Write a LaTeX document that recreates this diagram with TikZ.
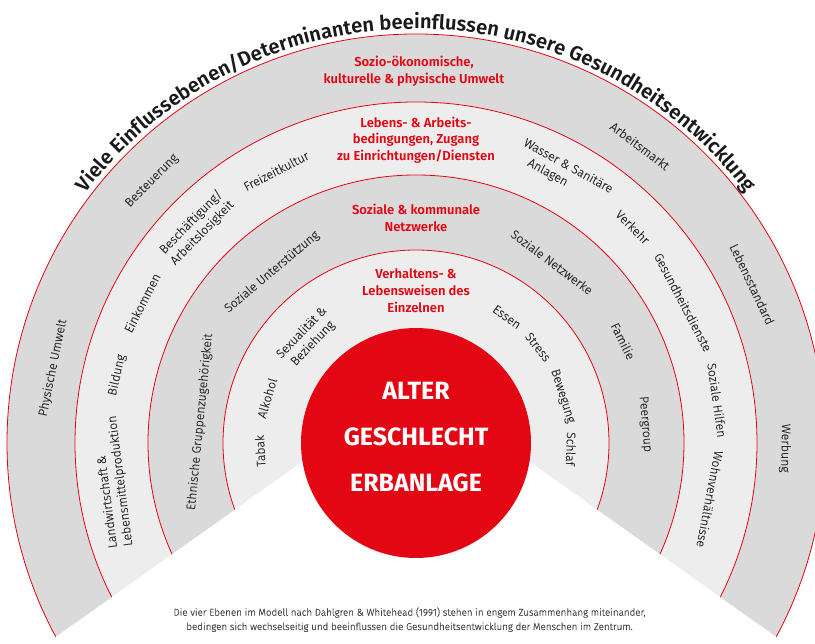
\documentclass[tikz,border=0pt]{standalone}
\usepackage{fontspec}
\setmainfont{Fira Sans}
\newfontfamily\lightfont{Fira Sans Light}[FakeBold=0.4]
\newfontfamily\semifont{Fira Sans SemiBold}
\usetikzlibrary{decorations.text}

\definecolor{hbred}{HTML}{E30613}
\definecolor{ringdark}{HTML}{DADADA}
\definecolor{ringlight}{HTML}{EDEDED}
\definecolor{labelgray}{HTML}{2B2B2B}
\definecolor{titleink}{HTML}{1A1A1A}
\definecolor{notegray}{HTML}{444444}

\begin{document}
\begin{tikzpicture}[x=1pt,y=1pt,
  ringline/.style={draw=hbred, line width=0.8pt},
  lbl/.style={font=\lightfont\fontsize{12.3}{15.5}\selectfont, text=labelgray, inner sep=0pt},
  head/.style={font=\semifont\fontsize{13}{16.7}\selectfont, text=hbred, inner sep=0pt, anchor=base},
  core/.style={font=\bfseries\fontsize{25}{30}\selectfont, text=white, inner sep=0pt, anchor=base},
  note/.style={font=\lightfont\fontsize{9.8}{14}\selectfont, text=notegray, inner sep=0pt, anchor=base}]

\useasboundingbox (0,0) rectangle (815,644);
\coordinate (C) at (416,201);
\coordinate (A) at (416,263);

% concentric rings, outermost first
\begin{scope}
  \clip (0,0) rectangle (815,644);
  \fill[ringdark]  (C) circle[radius=409];
  \draw[ringline]  (C) circle[radius=409];
  \fill[ringlight] (C) circle[radius=341];
  \draw[ringline]  (C) circle[radius=341];
  \fill[ringdark]  (C) circle[radius=268];
  \draw[ringline]  (C) circle[radius=268];
  \fill[ringlight] (C) circle[radius=193];
  \draw[ringline]  (C) circle[radius=193];
  % open wedge below the centre
  \fill[white] (A) -- ([shift={(215.4:800)}]A) -- ([shift={(-35.4:800)}]A) -- cycle;
  % core disc
  \fill[hbred] (C) circle[radius=115];
\end{scope}

% curved headline
\path[decorate, decoration={text along path, text align=center, text color=titleink,
  text={|\semifont\fontsize{20.2}{24}\selectfont|Viele Einflussebenen/Determinanten beeinflussen unsere Gesundheitsentwicklung}}]
  ([shift={(160:414)}]C) arc[start angle=160, end angle=20, radius=414];

% core labels
\node[core] (alter) at (416,244) {ALTER};
\node[core] (geschlecht) at (416,198) {GESCHLECHT};
\node[core] (erbanlage) at (416,152.3) {ERBANLAGE};

% ring headings
\node[head] (h4a) at (414,577.3) {Sozio-ökonomische,};
\node[head] (h4b) at (414,560.7) {kulturelle \& physische Umwelt};
\node[head] (h3a) at (416,516.7) {Lebens- \& Arbeits-};
\node[head] (h3b) at (416,500) {bedingungen, Zugang};
\node[head] (h3c) at (416,483.3) {zu Einrichtungen/Diensten};
\node[head] (h2a) at (416,429) {Soziale \& kommunale};
\node[head] (h2b) at (416,412.3) {Netzwerke};
\node[head] (h1a) at (416,365) {Verhaltens- \&};
\node[head] (h1b) at (416,348.3) {Lebensweisen des};
\node[head] (h1c) at (416,331.7) {Einzelnen};

% ring 1: individual lifestyle
\node[lbl, rotate=92.9]  (tabak)    at ([shift={(182.9:156)}]C) {Tabak};
\node[lbl, rotate=73.2]  (alkohol)  at ([shift={(163.2:155.6)}]C) {Alkohol};
\node[lbl, rotate=46, align=center] (sexual) at ([shift={(136:151)}]C) {Sexualität \&\\Beziehung};
\node[lbl, rotate=-35.8] (essen)    at ([shift={(54.2:155.4)}]C) {Essen};
\node[lbl, rotate=-51.8] (stress)   at ([shift={(38.2:155.2)}]C) {Stress};
\node[lbl, rotate=-72.3] (bewegung) at ([shift={(17.7:153.7)}]C) {Bewegung};
\node[lbl, rotate=-92.2] (schlaf)   at ([shift={(-2.2:155)}]C) {Schlaf};

% ring 2: social and community networks
\node[lbl, rotate=84.4]  (ethnisch)   at ([shift={(174.4:217)}]C) {Ethnische Gruppenzugehörigkeit};
\node[lbl, rotate=40.1]  (unterst)    at ([shift={(130.1:223.6)}]C) {Soziale Unterstützung};
\node[lbl, rotate=-36.9] (netzwerke)  at ([shift={(53.1:226.4)}]C) {Soziale Netzwerke};
\node[lbl, rotate=-63.8] (familie)    at ([shift={(26.2:230.8)}]C) {Familie};
\node[lbl, rotate=-85.3] (peergroup)  at ([shift={(4.7:229.8)}]C) {Peergroup};

% ring 3: living and working conditions
\node[lbl, rotate=97.3, align=left] (landw) at ([shift={(187.3:305.5)}]C) {Landwirtschaft \&\\Lebensmittelproduktion};
\node[lbl, rotate=77.2]  (bildung)   at ([shift={(167.2:306.6)}]C) {Bildung};
\node[lbl, rotate=62.9]  (einkommen) at ([shift={(152.9:307.7)}]C) {Einkommen};
\node[lbl, rotate=45.5, align=center] (beschaeft) at ([shift={(135.5:307.6)}]C) {Beschäftigung/\\Arbeitslosigkeit};
\node[lbl, rotate=27.2]  (freizeit)  at ([shift={(117.2:306)}]C) {Freizeitkultur};
\node[lbl, rotate=-28.8, align=left] (wasser) at ([shift={(61.2:308)}]C) {Wasser \& Sanitäre\\\hspace*{13pt}Anlagen};
\node[lbl, rotate=-45.1] (verkehr)   at ([shift={(44.9:306)}]C) {Verkehr};
\node[lbl, rotate=-62.2] (gesdienst) at ([shift={(27.8:302)}]C) {Gesundheitsdienste};
\node[lbl, rotate=-81.9] (hilfen)    at ([shift={(8.1:304)}]C) {Soziale Hilfen};
\node[lbl, rotate=-100.8] (wohn)     at ([shift={(-10.8:299.3)}]C) {Wohnverhältnisse};

% ring 4: socio-economic, cultural and physical environment
\node[lbl, rotate=78.3]  (physisch)  at ([shift={(168.3:370.7)}]C) {Physische Umwelt};
\node[lbl, rotate=45.2]  (steuer)    at ([shift={(135.2:372)}]C) {Besteuerung};
\node[lbl, rotate=-37]   (arbmarkt)  at ([shift={(53:372)}]C) {Arbeitsmarkt};
\node[lbl, rotate=-64.7] (standard)  at ([shift={(25.3:371.7)}]C) {Lebensstandard};
\node[lbl, rotate=-90.8] (werbung)   at ([shift={(-0.8:369)}]C) {Werbung};

% caption
\node[note] (cap1) at (409.5,28.3) {Die vier Ebenen im Modell nach Dahlgren \& Whitehead (1991) stehen in engem Zusammenhang miteinander,};
\node[note] (cap2) at (409.5,14) {bedingen sich wechselseitig und beeinflussen die Gesundheitsentwicklung der Menschen im Zentrum.};
\end{tikzpicture}
\end{document}
